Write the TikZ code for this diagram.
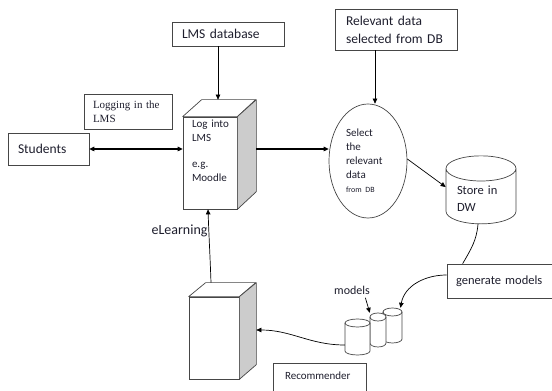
\documentclass[tikz,border=0pt]{standalone}
\usepackage{fontspec}
\setmainfont{Carlito}
\newfontfamily\serifbox{Liberation Serif}
\usetikzlibrary{arrows.meta,shapes.geometric}
\definecolor{edgeGray}{RGB}{70,70,70}
\definecolor{sideGray}{RGB}{204,204,204}
\definecolor{inkDark}{RGB}{30,30,45}

\begin{document}
\begin{tikzpicture}[x=1pt, y=1pt]
  \tikzstyle{box} = [rectangle, draw=edgeGray, line width=0.7pt, text=inkDark, align=left]
  \tikzstyle{front} = [rectangle, draw=edgeGray, line width=0.7pt, fill=white, text=inkDark, align=left]
  \tikzstyle{face} = [draw=edgeGray, line width=0.7pt, line join=round]
  \tikzstyle{drum} = [cylinder, shape border rotate=90, draw=edgeGray, line width=0.7pt, fill=white, text=inkDark]
  \tikzstyle{arrow} = [-{Triangle[length=5pt, width=4.5pt]}, line width=0.7pt]
  \tikzstyle{link} = [line width=0.7pt]

  \useasboundingbox (0,0) rectangle (552,391);
  \clip (0,0) rectangle (552,391);

  % text boxes
  \node[box, text width=92pt, inner xsep=10pt, minimum height=24pt, font=\fontsize{13.5}{18}\selectfont] (lmsdb) at (228,357) {LMS database};
  \node[box, text width=100pt, inner xsep=11pt, minimum height=41pt, font=\fontsize{13.5}{18}\selectfont] (rel) at (396,361.5) {Relevant data\\selected from DB};
  \node[box, text width=70pt, inner xsep=9pt, minimum height=35pt, font=\serifbox\fontsize{11}{14}\selectfont] (logging) at (128,279.5) {Logging in the\\LMS};
  \node[box, text width=61pt, inner xsep=10pt, minimum height=32pt, font=\fontsize{13.5}{18}\selectfont] (students) at (48.5,242) {Students};
  \node[box, text width=95pt, inner xsep=9pt, minimum height=34pt, font=\fontsize{12.5}{16}\selectfont] (gen) at (503.5,110) {generate models};
  \node[box, anchor=north, text width=69pt, inner xsep=12pt, inner ysep=6pt, text height=10pt, text depth=20pt, font=\fontsize{11}{14}\selectfont] (rec) at (319.5,28) {Recommender};

  % LMS block
  \node[front, text width=36pt, inner xsep=9pt, inner ysep=4pt, text height=7pt, text depth=77pt, font=\fontsize{11}{14}\selectfont] (lms) at (210,228) {Log~into\\LMS\\[12pt]e.g.\\Moodle};
  \draw[face, fill=white] (lms.north west) -- ++(19,17) -- ++(54,0) -- (lms.north east) -- cycle;
  \draw[face, fill=sideGray] (lms.north east) -- ++(19,17) -- ++(0,-92) -- (lms.south east) -- cycle;
  \coordinate (lmsback) at ([shift={(19,17)}]lms.north east);

  % recommender block
  \node[front, minimum width=50pt, minimum height=82pt] (recbox) at (214,53) {};
  \draw[face, fill=white] (recbox.north west) -- ++(17,14) -- ++(50,0) -- (recbox.north east) -- cycle;
  \draw[face, fill=sideGray] (recbox.north east) -- ++(17,14) -- ++(0,-82) -- (recbox.south east) -- cycle;

  % selection and storage
  \node[ellipse, draw=edgeGray, line width=0.7pt, text=inkDark, align=left, text width=44pt, inner sep=0pt, minimum width=78pt, minimum height=114pt, font=\fontsize{11}{14}\selectfont] (sel) at (368,230) {Select\\the\\relevant\\data\\{\fontsize{8}{12}\selectfont from DB}};
  \node[drum, aspect=0.46, minimum width=70pt, minimum height=68pt, text width=48pt, align=left, font=\fontsize{12.5}{17}\selectfont] (dw) at (481,192) {Store in\\DW};

  % models, back one first
  \foreach \name/\cx/\cy/\w/\h in {m3/392.5/65.5/19/35, m2/378/61/16/34, m1/357.5/54/25/36} {
    \node[inner sep=0pt, minimum width=\w pt, minimum height=\h pt] (\name) at (\cx,\cy) {};
    \draw[face, fill=white] (\cx-\w/2, \cy+\h/2-4) -- (\cx-\w/2, \cy-\h/2+4)
      arc[start angle=180, end angle=360, x radius=\w/2, y radius=4]
      -- (\cx+\w/2, \cy+\h/2-4)
      arc[start angle=0, end angle=180, x radius=\w/2, y radius=4] -- cycle;
    \draw[face] (\cx-\w/2, \cy+\h/2-4) arc[start angle=180, end angle=360, x radius=\w/2, y radius=4];
  }
  \node[text=inkDark, font=\fontsize{12}{14}\selectfont] (mlabel) at (352,101) {models};

  % connectors
  \draw[arrow] ([xshift=-10pt]lmsdb.south) -- ([xshift=-10pt]lmsdb.south |- lmsback);
  \draw[{Triangle[length=5pt, width=4.5pt]}-{Triangle[length=5pt, width=4.5pt]}, line width=1.1pt] (students.east) -- (students.east -| lms.west);
  \draw[arrow, line width=1.1pt] (lmsback |- students.east) -- (students.east -| sel.west);
  \draw[arrow] ([xshift=-21pt]rel.south) -- ([xshift=-21pt]rel.south |- sel.north);
  \draw[arrow] ([yshift=2pt]sel.east) -- ([yshift=12pt]dw.west);
  \draw[link] ([xshift=-3pt]dw.south) to[out=-95, in=60] ([xshift=16pt]gen.north west);
  \draw[arrow] ([yshift=6pt]gen.west) to[out=180, in=80] ([xshift=8pt]m3.north);
  \draw[arrow] ([xshift=-8pt]mlabel.south east) -- (m2.north west);
  \draw[arrow] ([yshift=-8pt]m1.west) to[out=180, in=0] ([shift={(17,8)}]recbox.east);
  \draw[arrow] ([shift={(-3,14)}]recbox.north) to[out=92, in=-88]
    node[pos=0.72, left, inner sep=1pt, text=inkDark, font=\fontsize{14}{16}\selectfont] {eLearning} ([xshift=-2pt]lms.south);
\end{tikzpicture}
\end{document}
